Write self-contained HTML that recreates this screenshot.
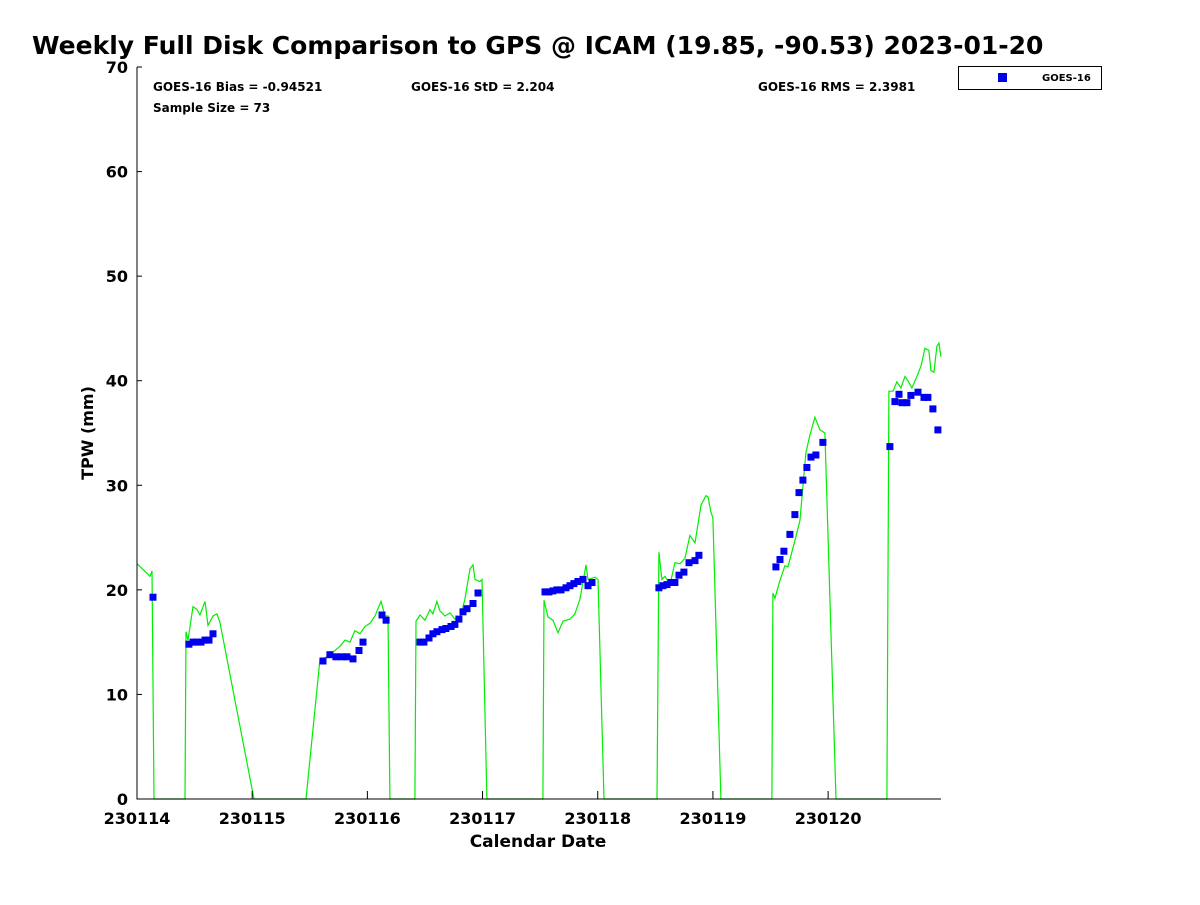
<!DOCTYPE html>
<html><head><meta charset="utf-8"><style>
body{margin:0;background:#fff;}
svg text{font-family:"DejaVu Sans","Liberation Sans",sans-serif;font-weight:bold;fill:#000;}
</style></head><body>
<svg width="1200" height="900" xmlns="http://www.w3.org/2000/svg">
<rect width="1200" height="900" fill="#fff"/>
<text x="32" y="54" font-size="25">Weekly Full Disk Comparison to GPS @ ICAM (19.85, -90.53) 2023-01-20</text>
<g id="axes"></g>
<text x="153" y="91" font-size="12">GOES-16 Bias = -0.94521</text>
<text x="411" y="91" font-size="12">GOES-16 StD = 2.204</text>
<text x="758" y="91" font-size="12">GOES-16 RMS = 2.3981</text>
<text x="153" y="112" font-size="12">Sample Size = 73</text>
<g>
<rect x="958.5" y="66.5" width="143" height="23" fill="#fff" stroke="#000" stroke-width="1"/>
<rect x="998" y="73" width="9" height="9" fill="#0000ee"/>
<text x="1042" y="81" font-size="10">GOES-16</text>
</g>
<text x="538" y="847" font-size="17" text-anchor="middle">Calendar Date</text>
<text transform="translate(93,433) rotate(-90)" font-size="16" text-anchor="middle">TPW (mm)</text>
</svg>
<script>
const xTickLabels=["230114","230115","230116","230117","230118","230119","230120"];
const yTicks=[0,10,20,30,40,50,60,70];
const goesX=[0.139,0.451,0.486,0.521,0.556,0.590,0.625,0.660,1.615,1.675,1.727,1.780,1.823,1.875,1.927,1.962,2.127,2.163,2.457,2.491,2.535,2.569,2.604,2.648,2.682,2.726,2.760,2.795,2.830,2.865,2.917,2.960,3.542,3.576,3.611,3.646,3.681,3.724,3.759,3.793,3.828,3.872,3.915,3.950,4.531,4.566,4.601,4.635,4.670,4.705,4.748,4.792,4.844,4.878,5.547,5.582,5.616,5.668,5.712,5.747,5.781,5.816,5.851,5.894,5.955,6.536,6.580,6.615,6.641,6.684,6.719,6.780,6.832,6.866,6.910,6.953];
const goesY=[19.3,14.8,15.0,15.0,15.0,15.2,15.2,15.8,13.2,13.8,13.6,13.6,13.6,13.4,14.2,15.0,17.6,17.1,15.0,15.0,15.4,15.8,16.0,16.2,16.3,16.5,16.7,17.2,17.9,18.2,18.7,19.7,19.8,19.8,19.9,20.0,20.0,20.2,20.4,20.6,20.8,21.0,20.4,20.7,20.2,20.4,20.5,20.7,20.7,21.4,21.7,22.6,22.8,23.3,22.2,22.9,23.7,25.3,27.2,29.3,30.5,31.7,32.7,32.9,34.1,33.7,38.0,38.7,37.9,37.9,38.6,38.9,38.4,38.4,37.3,35.3];
const gpsX=[0,0.113,0.130,0.148,0.417,0.425,0.443,0.486,0.521,0.547,0.590,0.616,0.660,0.694,0.720,1.016,1.467,1.589,1.632,1.675,1.762,1.806,1.849,1.892,1.936,1.979,2.023,2.066,2.118,2.153,2.179,2.196,2.413,2.422,2.457,2.500,2.543,2.569,2.604,2.630,2.674,2.717,2.760,2.804,2.847,2.891,2.917,2.934,2.977,2.995,3.038,3.524,3.533,3.568,3.611,3.655,3.698,3.759,3.802,3.845,3.898,3.915,3.976,4.002,4.054,4.514,4.531,4.557,4.583,4.627,4.670,4.714,4.757,4.800,4.844,4.896,4.939,4.957,4.983,5.000,5.069,5.512,5.521,5.538,5.582,5.625,5.651,5.712,5.755,5.807,5.842,5.885,5.929,5.972,6.068,6.510,6.528,6.563,6.597,6.632,6.667,6.693,6.727,6.771,6.806,6.840,6.875,6.892,6.918,6.944,6.962,6.979];
const gpsY=[22.5,21.3,21.8,0,0,16.0,15.2,18.4,18.1,17.6,18.9,16.6,17.5,17.7,16.9,0,0,13.4,13.5,13.8,14.6,15.2,15.0,16.1,15.8,16.5,16.8,17.5,18.9,17.5,17.5,0,0,17.0,17.6,17.1,18.1,17.7,18.9,18.0,17.5,17.8,17.2,17.2,19.1,22.0,22.4,21.0,20.8,21.0,0,0,19.0,17.4,17.1,15.9,17.0,17.2,17.7,19.1,22.4,21.0,21.2,21.0,0,0,23.6,21.0,21.3,20.5,22.6,22.5,23.0,25.2,24.5,28.1,29.0,28.9,27.4,26.9,0,0,19.7,19.2,20.9,22.3,22.2,24.7,26.6,33.1,34.8,36.5,35.3,35.0,0,0,39.0,39.0,39.9,39.3,40.4,40.0,39.3,40.4,41.4,43.1,42.9,41.0,40.8,43.3,43.6,42.3];

const X0=137,X1=941,Y0=799,Y1=67,XMAX=6.98,YMAX=70;
const sx=d=>X0+d/XMAX*(X1-X0);
const sy=v=>Y0-v/YMAX*(Y0-Y1);
const NS="http://www.w3.org/2000/svg";
const g=document.getElementById('axes');
function mk(t,a){const e=document.createElementNS(NS,t);for(const k in a)e.setAttribute(k,a[k]);g.appendChild(e);return e;}
// gps line
let d="";
gpsX.forEach((x,i)=>{d+=(i?"L":"M")+sx(x).toFixed(1)+","+sy(gpsY[i]).toFixed(1);});
const line=mk('path',{d:d,fill:'none',stroke:'#00ee00','stroke-width':1.2});


// goes points
goesX.forEach((x,i)=>{
  const r=mk('rect',{x:(sx(x)-3.5).toFixed(1),y:(sy(goesY[i])-3.5).toFixed(1),width:7,height:7,fill:'#0000ee'});
  
  
});
// axes lines
const ax=mk('path',{d:`M${X0},${Y1}L${X0},${Y0}L${X1},${Y0}`,fill:'none',stroke:'#000','stroke-width':1});


yTicks.forEach(v=>{
  const y=sy(v);
  const t=mk('line',{x1:X0,y1:y,x2:X0+5,y2:y,stroke:'#000'});
  
  
  const l=mk('text',{x:X0-9,y:y+6,'font-size':16,'text-anchor':'end'});
  l.textContent=v;
  
  
});
xTickLabels.forEach((s,i)=>{
  const x=sx(i);
  const t=mk('line',{x1:x,y1:Y0,x2:x,y2:Y0-8,stroke:'#000'});
  
  
  const l=mk('text',{x:x,y:Y0+25,'font-size':16,'text-anchor':'middle'});
  l.textContent=s;
  
  
});
</script>
</body></html>
